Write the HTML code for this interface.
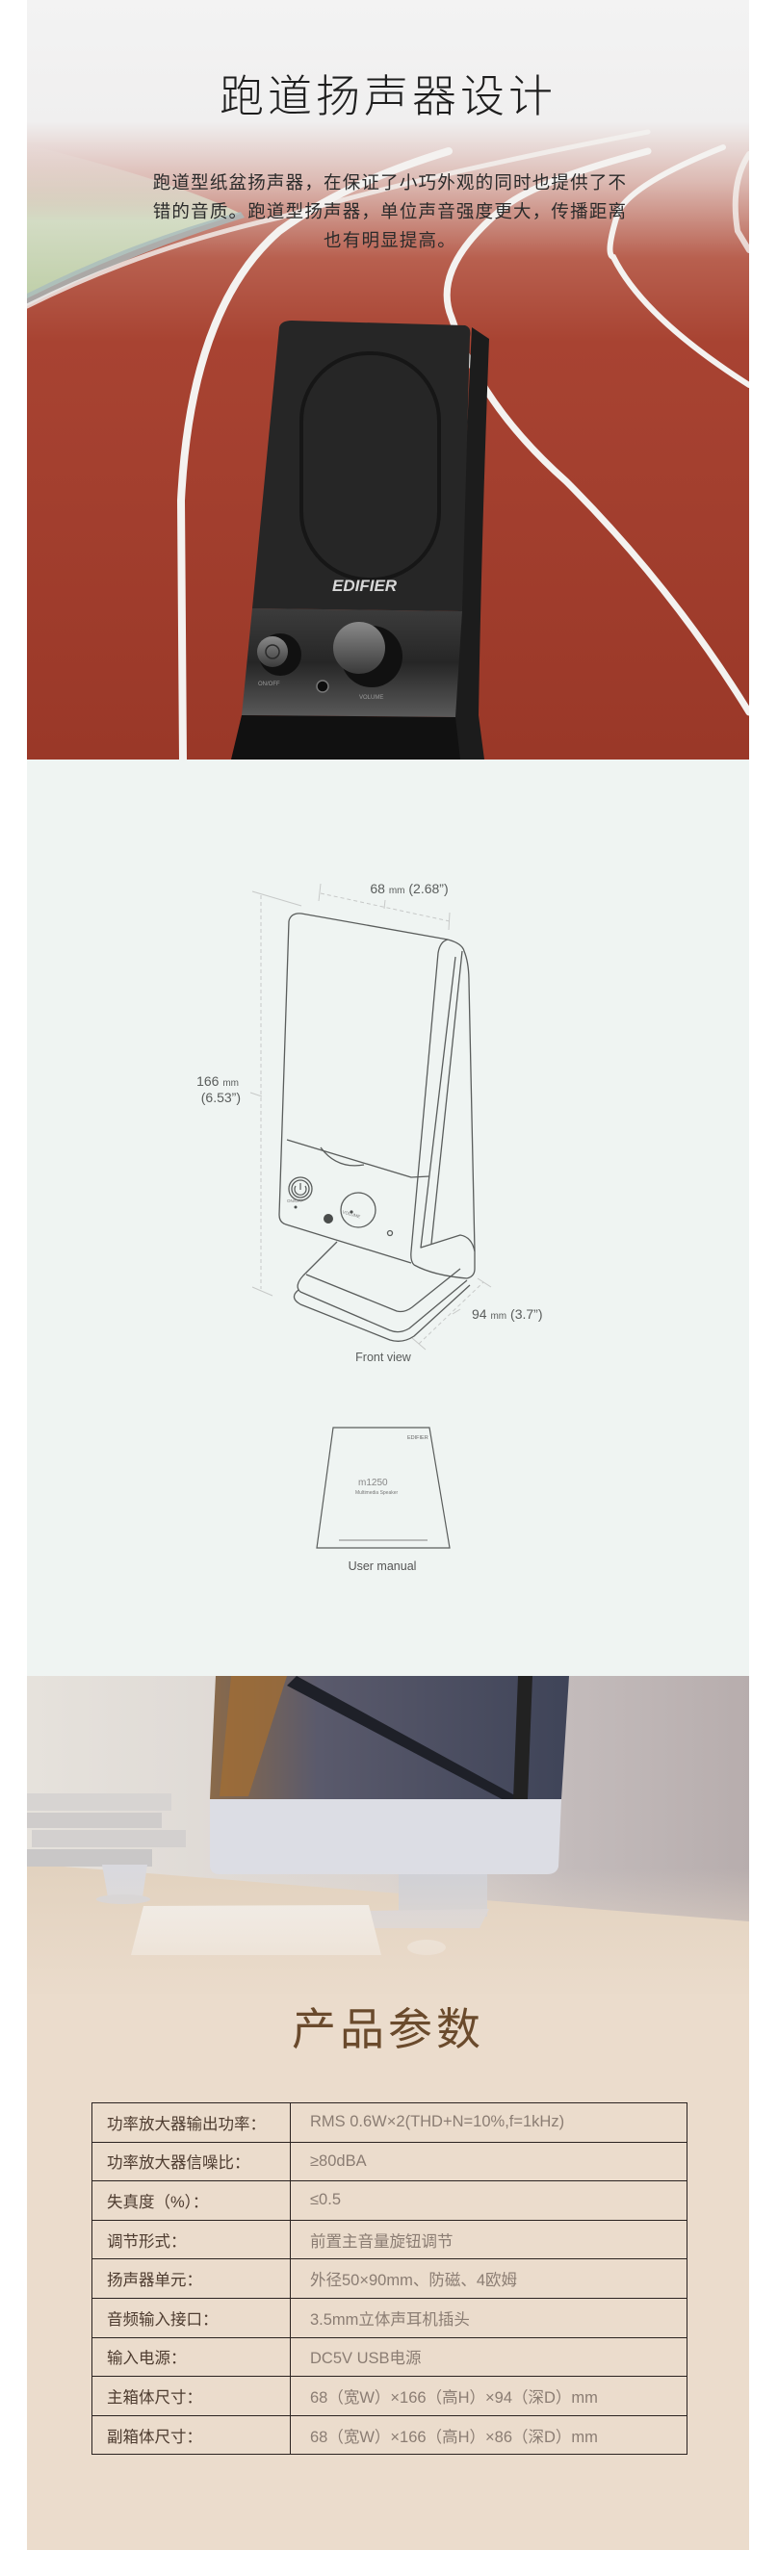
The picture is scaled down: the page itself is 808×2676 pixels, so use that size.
<!DOCTYPE html>
<html><head><meta charset="utf-8">
<style>
*{margin:0;padding:0;box-sizing:border-box}
body{width:808px;height:2676px;background:#fff;position:relative;overflow:hidden;font-family:"Liberation Sans","Noto Sans CJK SC",sans-serif}
.abs{position:absolute}
.title1{left:28px;width:750px;top:70px;text-align:center;font-size:46px;line-height:60px;color:#1e1e1e;letter-spacing:4px;font-weight:300}
.para{left:150px;width:510px;top:175px;text-align:center;font-size:18.5px;line-height:30px;color:#2a2a2a;letter-spacing:1.2px}
.title2{left:28px;width:750px;top:2078px;text-align:center;font-size:46px;line-height:60px;color:#6a4a2c;letter-spacing:4px}
table{position:absolute;left:95px;top:2184px;width:619px;border-collapse:collapse;font-size:16.5px}
td{border:1.5px solid #2a2220;height:40.6px;padding:0}
td.l{width:206px;padding-left:15px;color:#4e3c30}
td.v{padding-left:20px;color:#8b7d73}
</style></head><body>

<!-- Section 1 -->
<svg class="abs" style="left:28px;top:0" width="750" height="789" viewBox="0 0 750 789">
<defs>
<linearGradient id="trk" x1="0" y1="0" x2="0" y2="1">
<stop offset="0" stop-color="#f3f3f3"/>
<stop offset="0.16" stop-color="#f0efef"/>
<stop offset="0.24" stop-color="#dcb9b2"/>
<stop offset="0.34" stop-color="#b8604f"/>
<stop offset="0.45" stop-color="#a84332"/>
<stop offset="1" stop-color="#9a3828"/>
</linearGradient>
<linearGradient id="grass" x1="0" y1="0" x2="0" y2="1">
<stop offset="0" stop-color="#eef0ec" stop-opacity="0"/>
<stop offset="0.5" stop-color="#d3dcc4"/>
<stop offset="1" stop-color="#bfcfa8"/>
</linearGradient>
<linearGradient id="knob" x1="0" y1="0" x2="0" y2="1">
<stop offset="0" stop-color="#8a8a8a"/><stop offset="1" stop-color="#3a3a3a"/>
</linearGradient>
<linearGradient id="panel" x1="0" y1="0" x2="0" y2="1">
<stop offset="0" stop-color="#3c3c3c"/><stop offset="0.5" stop-color="#262626"/><stop offset="1" stop-color="#5a5a5a"/>
</linearGradient>
</defs>
<rect width="750" height="789" fill="url(#trk)"/>
<path d="M0,150 L0,310 Q110,255 222,222 Q160,190 0,150Z" fill="url(#grass)"/>
<path d="M0,305 Q110,250 222,220 L226,226 Q110,262 0,318Z" fill="#a9bcbd" opacity="0.8"/>
<g fill="none" stroke="#f4f2f0" stroke-linecap="round">
<path d="M0,318 Q120,258 262,226 Q420,180 645,137" stroke-width="5" opacity="0.8"/>
<path d="M438,157 Q330,190 262,240 Q170,320 160,520 L162,789" stroke-width="8"/>
<path d="M645,157 Q520,190 490,220 Q420,280 441,330 Q470,420 560,500 Q670,610 750,740" stroke-width="7"/>
<path d="M723,153 Q630,190 614,220 Q600,265 609,267 Q640,330 750,400" stroke-width="6"/>
<path d="M750,160 Q730,190 738,240 L750,260" stroke-width="6" opacity="0.8"/>
</g>
<!-- speaker -->
<path d="M462,340 L480,352 Q472,560 469,743 L475,789 L440,789 L450,600Z" fill="#1c1c1c"/>
<path d="M262,340 Q264,333 275,333 L455,338 Q462,340 460,350 L452,635 L234,632 Z" fill="#262626"/>
<rect x="285" y="367" width="143" height="235" rx="70" fill="none" stroke="#161616" stroke-width="4"/>
<text x="317" y="614" font-family="Liberation Sans" font-weight="bold" font-style="italic" font-size="17" fill="#d8d8d8">EDIFIER</text>
<path d="M234,632 L452,635 L445,745 L223,743 Z" fill="url(#panel)"/>
<path d="M223,743 L445,745 L450,789 L212,789Z" fill="#111"/>
<circle cx="263" cy="680" r="22" fill="#111"/>
<circle cx="255" cy="677" r="16" fill="url(#knob)"/>
<circle cx="255" cy="677" r="7" fill="none" stroke="#2a2a2a" stroke-width="1.5"/>
<circle cx="358" cy="682" r="32" fill="#111"/>
<circle cx="345" cy="673" r="27" fill="url(#knob)"/>
<circle cx="307" cy="713" r="6" fill="#0d0d0d" stroke="#777" stroke-width="1.5"/>
<text x="240" y="712" font-size="6" fill="#999">ON/OFF</text>
<text x="345" y="726" font-size="6" fill="#999">VOLUME</text>
</svg>
<div class="abs title1">跑道扬声器设计</div>
<div class="abs para">跑道型纸盆扬声器，在保证了小巧外观的同时也提供了不错的音质。跑道型扬声器，单位声音强度更大，传播距离也有明显提高。</div>

<!-- Section 2 -->
<div class="abs" style="left:28px;top:789px;width:750px;height:952px;background:#eff4f2"></div>
<svg class="abs" style="left:0;top:0" width="808" height="1741" viewBox="0 0 808 1741">
<g fill="none" stroke="#c7c9c8" stroke-width="1" stroke-dasharray="4,3">
<path d="M271,930 L271,1339"/>
<path d="M333,928 L467,957"/>
<path d="M435,1396 L502,1332"/>
</g>
<g fill="none" stroke="#c7c9c8" stroke-width="1">
<path d="M262,926 L313,941"/><path d="M262,1337 L283,1346"/><path d="M260,1135 L272,1139"/>
<path d="M333,918 L331,936"/><path d="M467,948 L466,966"/><path d="M400,935 L399,944"/>
<path d="M428,1390 L442,1402"/><path d="M496,1328 L510,1337"/><path d="M470,1365 L478,1360"/>
</g>
<g fill="none" stroke="#5a5d5c" stroke-width="1.3" stroke-linejoin="round">
<path d="M300,957 Q302,948 313,949 L465,976 Q480,980 482,988 Q487,1000 487,1020 L493,1300"/>
<path d="M300,957 L290,1262 Q290,1270 297,1272 L427,1312"/>
<path d="M465,976 Q457,978 455,990 L427,1300 Q426,1310 430,1314"/>
<path d="M473,994 L437,1296 L478,1283 Q490,1285 493,1300 L493,1318 Q493,1326 485,1328"/>
<path d="M480,988 L448,1292"/>
<path d="M298,1184 L427,1223 L446,1222"/>
<path d="M333,1192 Q350,1215 378,1210"/>
<path d="M430,1314 Q450,1325 485,1328"/>
<path d="M350,1290 L315,1325 Q305,1336 312,1342 L405,1382 Q415,1386 425,1380 L485,1330"/>
<path d="M310,1340 Q300,1348 312,1355 L405,1392 Q418,1396 430,1388 L488,1335"/>
<path d="M318,1324 L412,1362 Q420,1364 428,1358 L478,1318"/>
<circle cx="312" cy="1235" r="12"/><circle cx="312" cy="1235" r="9"/>
<circle cx="372" cy="1257" r="18"/>
<circle cx="405" cy="1281" r="2.5"/>
</g>
<path d="M312,1229 L312,1236 M307,1232 A6,6 0 1 0 317,1232" fill="none" stroke="#5a5d5c" stroke-width="1.2"/>
<circle cx="341" cy="1266" r="5" fill="#4a4d4c"/>
<circle cx="365" cy="1259" r="1.6" fill="#4a4d4c"/>
<circle cx="307" cy="1254" r="1.5" fill="#4a4d4c"/>
<text x="298" y="1249" font-size="4.5" fill="#777">ON/OFF</text>
<text x="355" y="1263" font-size="4.5" fill="#777" transform="rotate(16 365 1263)">VOLUME</text>
<g fill="#5a5d5c" font-family="Liberation Sans" font-size="14">
<text x="425" y="928" text-anchor="middle">68 <tspan font-size="10">mm</tspan> (2.68”)</text>
<text x="248" y="1128" text-anchor="end">166 <tspan font-size="10">mm</tspan></text>
<text x="250" y="1145" text-anchor="end">(6.53”)</text>
<text x="490" y="1370">94 <tspan font-size="10">mm</tspan> (3.7”)</text>
<text x="398" y="1414" text-anchor="middle" font-size="12.5">Front view</text>
</g>
<path d="M346,1483 L446,1483 L467,1608 L329,1608Z" fill="none" stroke="#5a5d5c" stroke-width="1.2"/>
<text x="423" y="1495" font-size="5.5" fill="#666">EDIFIER</text>
<text x="372" y="1543" font-size="10" fill="#888" font-weight="300">m1250</text>
<text x="369" y="1552" font-size="5" fill="#777">Multimedia Speaker</text>
<path d="M352,1600 L444,1600" stroke="#999" stroke-width="1.2"/>
<text x="397" y="1631" text-anchor="middle" font-size="12.5" fill="#555">User manual</text>
</svg>

<!-- Section 3 -->
<svg class="abs" style="left:28px;top:1741px" width="750" height="908" viewBox="0 0 750 908">
<defs>
<linearGradient id="wall" x1="0" y1="0" x2="1" y2="0">
<stop offset="0" stop-color="#e6e2dc"/><stop offset="0.5" stop-color="#d9d3d0"/><stop offset="0.75" stop-color="#c3bbbb"/><stop offset="1" stop-color="#b7adad"/>
</linearGradient>
<linearGradient id="fade" x1="0" y1="0" x2="0" y2="1">
<stop offset="0" stop-color="#ebdccc" stop-opacity="0"/><stop offset="1" stop-color="#ebdccc"/>
</linearGradient>
<linearGradient id="scr" x1="0" y1="0" x2="1" y2="0">
<stop offset="0" stop-color="#8a6a4a"/><stop offset="0.3" stop-color="#5a5a6c"/><stop offset="1" stop-color="#3f4458"/>
</linearGradient>
</defs>
<rect width="750" height="908" fill="#ebdccc"/>
<rect width="750" height="270" fill="url(#wall)"/>
<path d="M0,195 L750,255 L750,330 L0,330Z" fill="#e2d2bf"/>
<path d="M196,0 L563,0 L555,128 L190,128Z" fill="url(#scr)"/>
<path d="M212,0 L270,0 L230,125 L200,125Z" fill="#a06d34" opacity="0.8"/>
<path d="M270,10 L535,150 L545,145 L280,0Z" fill="#1e2028"/>
<path d="M510,0 L525,0 L520,128 L505,128Z" fill="#222"/>
<path d="M190,128 L555,128 L552,198 Q550,206 540,206 L200,206 Q190,206 190,196Z" fill="#dcdde4"/>
<path d="M386,206 L478,206 L478,250 L386,250Z" fill="#cfd0d6"/>
<path d="M290,245 L480,242 L470,262 L282,262Z" fill="#d6d5da"/>
<path d="M121,239 L355,238 L368,290 L108,290Z" fill="#f3f1ee"/>
<rect x="0" y="122" width="150" height="18" fill="#d7d4d2"/>
<rect x="0" y="142" width="140" height="16" fill="#cfcccb"/>
<rect x="5" y="160" width="160" height="18" fill="#d3d0cf"/>
<rect x="0" y="180" width="130" height="18" fill="#c9c7c7"/>
<path d="M78,196 L125,196 L120,230 L84,230Z" fill="#d9d9de"/>
<ellipse cx="100" cy="232" rx="28" ry="5" fill="#d4d4d8"/>
<ellipse cx="415" cy="282" rx="20" ry="8" fill="#eee8e0"/>
<rect x="0" y="200" width="750" height="140" fill="url(#fade)"/>
</svg>
<div class="abs title2">产品参数</div>
<table>
<tr><td class="l">功率放大器输出功率：</td><td class="v">RMS 0.6W×2(THD+N=10%,f=1kHz)</td></tr>
<tr><td class="l">功率放大器信噪比：</td><td class="v">≥80dBA</td></tr>
<tr><td class="l">失真度（%）：</td><td class="v">≤0.5</td></tr>
<tr><td class="l">调节形式：</td><td class="v">前置主音量旋钮调节</td></tr>
<tr><td class="l">扬声器单元：</td><td class="v">外径50×90mm、防磁、4欧姆</td></tr>
<tr><td class="l">音频输入接口：</td><td class="v">3.5mm立体声耳机插头</td></tr>
<tr><td class="l">输入电源：</td><td class="v">DC5V USB电源</td></tr>
<tr><td class="l">主箱体尺寸：</td><td class="v">68（宽W）×166（高H）×94（深D）mm</td></tr>
<tr><td class="l">副箱体尺寸：</td><td class="v">68（宽W）×166（高H）×86（深D）mm</td></tr>
</table>
</body></html>
